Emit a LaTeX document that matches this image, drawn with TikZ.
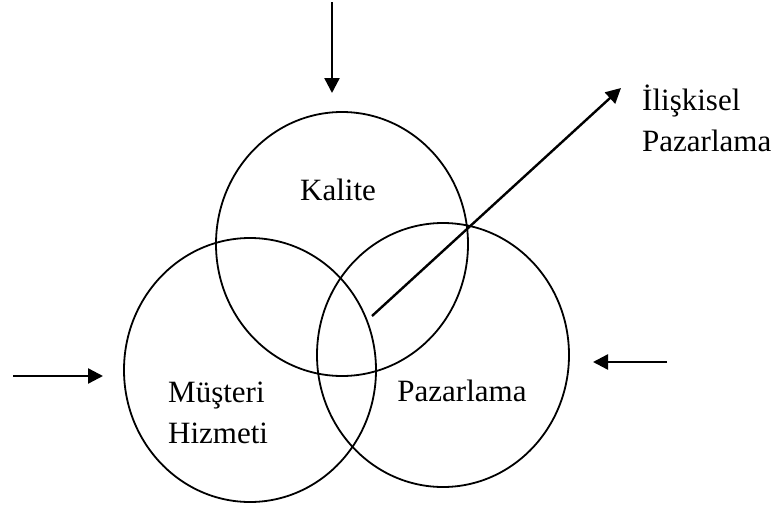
\documentclass[tikz,border=0pt]{standalone}
\usepackage{fontspec}
\setmainfont{Liberation Serif}
\usepackage{tikz}
\usetikzlibrary{arrows.meta, shapes.geometric, positioning}

\begin{document}
\begin{tikzpicture}[x=1pt, y=-1pt,
    daire/.style={draw, ellipse, line width=1.8pt, minimum width=252pt, minimum height=264pt, inner sep=0pt},
    ok/.style={-{Triangle[length=15pt, width=15pt]}, line width=2.4pt},
    etiket/.style={font=\fontsize{31}{41}\selectfont, align=left, inner sep=0pt}]
    \useasboundingbox (0,0) rectangle (777,506);

    % Daireler
    \node[daire] (kalite) at (342,244) {};
    \node[daire] (musteri) at (250,370) {};
    \node[daire] (pazarlama) at (443,355) {};

    % Etiketler
    \node[etiket, anchor=base] (kaliteyazi) at (338,200) {Kalite};
    \node[etiket, anchor=base west] (musteriyazi) at (168,443) {Müşteri\\Hizmeti};
    \node[etiket, anchor=base] (pazarlamayazi) at (462,401) {Pazarlama};
    \node[etiket, anchor=base west] (iliskisel) at (642,151) {İlişkisel\\Pazarlama};

    % Oklar
    \coordinate (ustbas) at (332,2);
    \coordinate (ustuc) at (332,93);
    \draw[ok] (ustbas) -- (ustuc);

    \coordinate (solbas) at (13,376);
    \coordinate (soluc) at (103,376);
    \draw[ok] (solbas) -- (soluc);

    \coordinate (sagbas) at (667,362);
    \coordinate (saguc) at (593,362);
    \draw[ok] (sagbas) -- (saguc);

    % Kesisimden cikan ok
    \coordinate (kesisim) at (372,316);
    \coordinate (capraz) at (621,88);
    \draw[ok] (kesisim) -- (capraz);
\end{tikzpicture}
\end{document}
